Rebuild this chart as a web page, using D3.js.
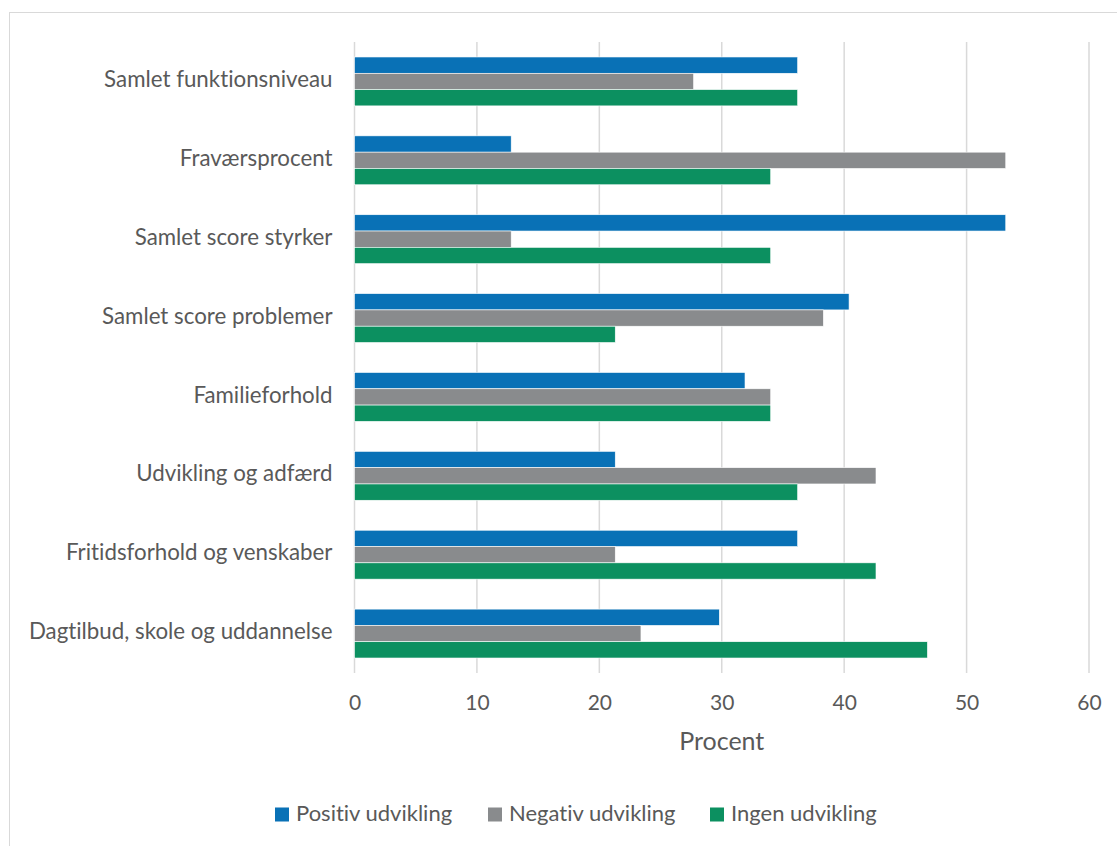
<!DOCTYPE html>
<html><head><meta charset="utf-8">
<script src="https://cdn.jsdelivr.net/npm/d3@7"></script>
<style>
html,body{margin:0;padding:0;background:#fff;}
svg{display:block;}
text{font-family:Lato,"Open Sans",sans-serif;fill:#595959;font-variant-ligatures:none;font-feature-settings:"liga" 0,"clig" 0;}
</style></head>
<body>
<svg id="chart" width="1117" height="846"></svg>
<script>
const categories = ["Samlet funktionsniveau","Fraværsprocent","Samlet score styrker","Samlet score problemer","Familieforhold","Udvikling og adfærd","Fritidsforhold og venskaber","Dagtilbud, skole og uddannelse"];
const seriesNames = ["Positiv udvikling","Negativ udvikling","Ingen udvikling"];
const positiv = [36.2,12.8,53.2,40.4,31.9,21.3,36.2,29.8];
const negativ = [27.7,53.2,12.8,38.3,34.0,42.6,21.3,23.4];
const ingen   = [36.2,34.0,34.0,21.3,34.0,36.2,42.6,46.8];
const xTicks = [0,10,20,30,40,50,60];
const colors = ["#0971B6","#898B8D","#0C9060"];
const axisTitle = "Procent";

const series = [positiv, negativ, ingen];
const svg = d3.select("#chart");
const W = 1117, H = 846;
const m = {left:354.5, right:1089, top:42, bottom:673};

// outer border
svg.append("rect").attr("x",9.5).attr("y",12.5).attr("width",W).attr("height",H)
  .attr("fill","none").attr("stroke","#d9d9d9").attr("stroke-width",1);

const x = d3.scaleLinear().domain([0,60]).range([m.left,m.right]);
const y = d3.scaleBand().domain(categories).range([m.top,m.bottom]).paddingInner(0.38).paddingOuter(0.19);
const ys = d3.scaleBand().domain(d3.range(3)).range([0,y.bandwidth()]);

// gridlines
svg.append("g").selectAll("line").data(xTicks).join("line")
  .attr("x1",d=>x(d)).attr("x2",d=>x(d)).attr("y1",m.top).attr("y2",m.bottom)
  .attr("stroke","#d9d9d9").attr("stroke-width",1.5);

// bars
const g = svg.append("g");
categories.forEach((c,i)=>{
  series.forEach((s,j)=>{
    g.append("rect").attr("x",x(0)).attr("y",y(c)+ys(j))
      .attr("width",x(s[i])-x(0)).attr("height",ys.bandwidth())
      .attr("fill",colors[j]).attr("stroke","#fff").attr("stroke-width",0.6);
  });
});

// x axis
const xAxis = d3.axisBottom(x).tickValues(xTicks).tickSize(0).tickPadding(0).tickFormat(d3.format("d"));
const xg = svg.append("g").attr("transform",`translate(0,${m.bottom})`).call(xAxis);
xg.select(".domain").remove();
xg.selectAll("text").attr("dy",null).attr("y",32).attr("dominant-baseline","middle")
  .style("font-size","21px").style("font-family","Lato,'Open Sans',sans-serif").attr("fill","#595959");

// y axis
const yAxis = d3.axisLeft(y).tickSize(0).tickPadding(22);
const yg = svg.append("g").attr("transform",`translate(${m.left},0)`).call(yAxis);
yg.select(".domain").remove();
yg.selectAll("text").attr("dy",null).attr("dominant-baseline","middle")
  .style("font-size","22.3px").style("font-family","Lato,'Open Sans',sans-serif").attr("fill","#595959");

// axis title
svg.append("text").attr("x",(m.left+m.right)/2).attr("y",744).attr("text-anchor","middle")
  .attr("dominant-baseline","middle").style("font-size","25px").text(axisTitle);

// legend
const legX = [275,488,710];
const lg = svg.append("g");
seriesNames.forEach((n,j)=>{
  lg.append("rect").attr("x",legX[j]).attr("y",807.5).attr("width",14).attr("height",14).attr("fill",colors[j]);
  lg.append("text").attr("x",legX[j]+21).attr("y",815).attr("dominant-baseline","middle")
    .style("font-size","22px").text(n);
});
</script>
</body></html>
